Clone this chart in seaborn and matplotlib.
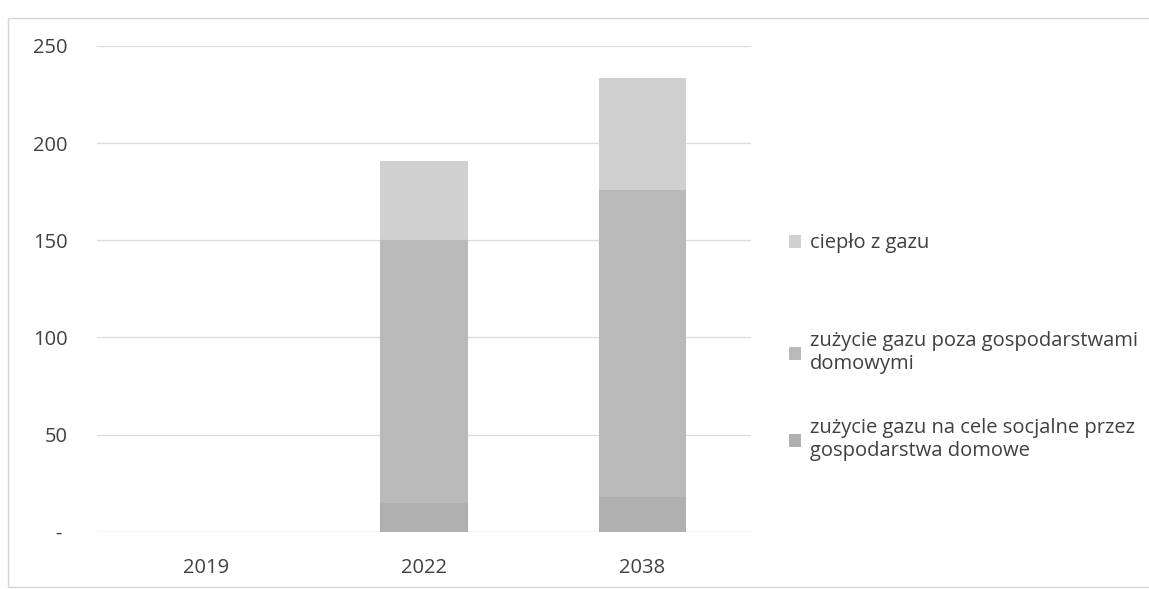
import numpy as np
import pandas as pd
import matplotlib.pyplot as plt
import seaborn as sns
from matplotlib.patches import Rectangle, Patch

# --- data ---
years = ["2019", "2022", "2038"]
socjalne = [0, 15, 18]      # zużycie gazu na cele socjalne przez gospodarstwa domowe
poza_gd = [0, 135, 158]     # zużycie gazu poza gospodarstwami domowymi
cieplo = [0, 41, 57.5]      # ciepło z gazu

labels = ["ciepło z gazu",
          "zużycie gazu poza gospodarstwami\ndomowymi",
          "zużycie gazu na cele socjalne przez\ngospodarstwa domowe"]
colors = ["#d0d0d0", "#b9b9b9", "#b0b0b0"]
yticks = [0, 50, 100, 150, 200, 250]
ytick_labels = ["- ", "50", "100", "150", "200", "250"]

sns.set_style("white")
plt.rcParams['font.family'] = ['Open Sans', 'DejaVu Sans']

df = pd.DataFrame({"year": years, "s": socjalne, "p": poza_gd, "c": cieplo})
df["lvl2"] = df["s"] + df["p"]
df["lvl3"] = df["lvl2"] + df["c"]

fig = plt.figure(figsize=(11.49, 5.89), dpi=100)
ax = fig.add_axes([0.084, 0.097, 0.57, 0.825])

# stacked look: draw cumulative totals, tallest first
for col, c in zip(["lvl3", "lvl2", "s"], colors):
    sns.barplot(data=df, x="year", y=col, color=c, width=0.4,
                saturation=1, linewidth=0, ax=ax, zorder=2)

ax.set_ylim(0, 250)
ax.set_yticks(yticks)
ax.set_yticklabels(ytick_labels)
ax.yaxis.grid(True, color="#dcdcdc", linewidth=0.9, zorder=0)
ax.set_axisbelow(True)
ax.set_xlabel("")
ax.set_ylabel("")
sns.despine(ax=ax, left=True, bottom=True)
ax.axhline(0, color="#d0d0d0", linewidth=0.9, zorder=1)
ax.tick_params(axis="both", length=0, labelsize=14.5, colors="#404040")
ax.tick_params(axis="y", pad=21)
ax.tick_params(axis="x", pad=19)

# legend entries, spaced like the original
legend_y = [0.587, 0.401, 0.253]
for lab, c, y in zip(labels, colors, legend_y):
    leg = fig.legend([Patch(facecolor=c, edgecolor="none")], [lab],
                     loc="center left", bbox_to_anchor=(0.687, y),
                     frameon=False, fontsize=14.5, borderpad=0, borderaxespad=0,
                     handlelength=0.6, handleheight=0.6, handletextpad=0.4,
                     labelcolor="#404040")

# outer frame of the chart area
fig.patches.append(Rectangle((0.007, 0.003), 1.2, 0.966, transform=fig.transFigure,
                             fill=False, edgecolor="#d5d5d5", linewidth=1))

fig.savefig("out.png", dpi=100)
